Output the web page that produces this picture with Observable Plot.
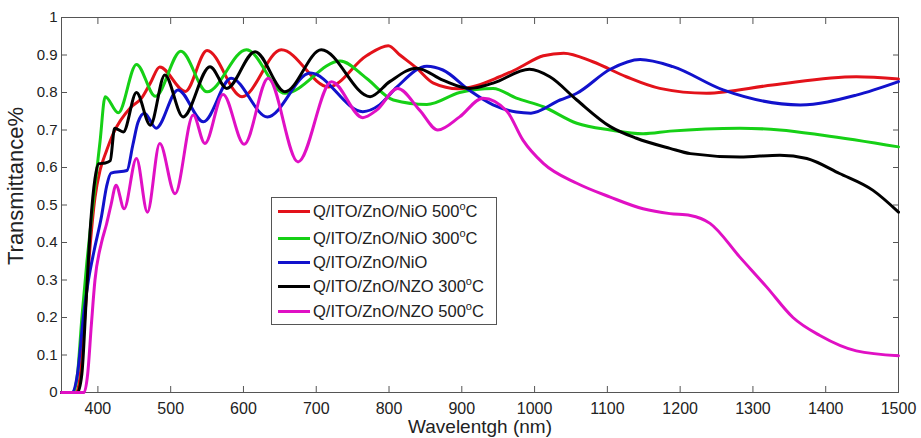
<!DOCTYPE html>
<html>
<head>
<meta charset="utf-8">
<script src="https://cdn.jsdelivr.net/npm/d3@7"></script>
<script src="https://cdn.jsdelivr.net/npm/@observablehq/plot@0.6"></script>
<style>
  body { margin: 0; background: white; }
  #wrap { position: relative; width: 921px; height: 438px; font-family: "Liberation Sans", Arial, sans-serif; }
  #legend { position: absolute; left: 271px; top: 197px; width: 226px; height: 128px; border: 1px solid #555; background: white; box-sizing: border-box; }
  .row { position: absolute; left: 0; height: 20px; display: flex; align-items: center; font-size: 16.5px; color: #222; white-space: nowrap; }
  .sw { width: 32px; height: 3px; margin-left: 6px; margin-right: 3px; }
  sup { font-size: 11px; vertical-align: 7px; line-height: 0; }
</style>
</head>
<body>
<div id="wrap"><div id="legend"></div></div>
<script>
// Series names and colours
const names = ["Q/ITO/ZnO/NiO 500", "Q/ITO/ZnO/NiO 300", "Q/ITO/ZnO/NiO", "Q/ITO/ZnO/NZO 300", "Q/ITO/ZnO/NZO 500"];
const suffixes = ["°C", "°C", "", "°C", "°C"];
const colors = ["#e3121a", "#16d016", "#1212cc", "#000000", "#e010c4"];

// Red: Q/ITO/ZnO/NiO 500°C
const redX = [350,370,376,382,388,396,403,411,421,445,460,472,485,520,550,598,652,717,769,799,815,838,861,895,952,975,1012,1040,1080,1126,1172,1236,1327,1442,1500];
const redY = [0,0,0.05,0.2,0.36,0.52,0.593,0.64,0.69,0.76,0.785,0.825,0.868,0.803,0.912,0.789,0.914,0.815,0.898,0.925,0.90,0.865,0.825,0.810,0.842,0.862,0.898,0.905,0.882,0.842,0.811,0.798,0.82,0.842,0.836];

// Green: Q/ITO/ZnO/NiO 300°C
const greenX = [350,366,372,378,385,392,403,410,428,453,479,514,550,604,657,733,769,806,852,897,943,975,1012,1058,1104,1149,1186,1282,1337,1396,1500];
const greenY = [0,0,0.05,0.2,0.35,0.48,0.67,0.789,0.746,0.875,0.79,0.91,0.802,0.914,0.798,0.884,0.838,0.78,0.768,0.80,0.811,0.785,0.762,0.718,0.70,0.69,0.697,0.705,0.70,0.686,0.655];

// Blue: Q/ITO/ZnO/NiO
const blueX = [350,364,372,380,387,395,405,412,418,440,448,455,464,480,510,545,583,633,692,764,787,811,852,874,911,943,975,995,1035,1058,1104,1145,1190,1259,1365,1442,1500];
const blueY = [0,0,0.05,0.2,0.3,0.38,0.47,0.55,0.585,0.592,0.66,0.72,0.745,0.705,0.807,0.722,0.838,0.735,0.852,0.749,0.767,0.815,0.87,0.86,0.805,0.767,0.748,0.745,0.78,0.798,0.862,0.888,0.869,0.807,0.767,0.793,0.829];

// Black: Q/ITO/ZnO/NZO 300°C
const blackX = [350,372,378,384,390,396,401,410,417,423,435,453,472,492,517,554,577,616,657,707,774,801,838,874,911,943,993,1021,1058,1104,1140,1186,1214,1282,1337,1374,1419,1465,1500];
const blackY = [0,0,0.05,0.25,0.45,0.57,0.61,0.612,0.618,0.705,0.695,0.80,0.713,0.847,0.735,0.869,0.811,0.909,0.802,0.914,0.789,0.829,0.865,0.833,0.811,0.825,0.862,0.842,0.78,0.709,0.678,0.651,0.637,0.628,0.633,0.624,0.584,0.539,0.481];

// Magenta: Q/ITO/ZnO/NZO 500°C
const magX = [350,381,386,391,396,405,412,418,425,436,453,468,485,506,531,547,572,601,634,675,721,764,783,812,842,867,897,929,962,984,1012,1058,1104,1149,1186,1214,1241,1282,1319,1355,1392,1442,1500];
const magY = [0,0,0.05,0.18,0.3,0.4,0.45,0.5,0.553,0.49,0.624,0.481,0.664,0.53,0.74,0.664,0.795,0.662,0.838,0.615,0.829,0.733,0.753,0.811,0.753,0.70,0.735,0.785,0.75,0.673,0.611,0.558,0.521,0.49,0.477,0.472,0.451,0.361,0.281,0.20,0.152,0.111,0.098];

// Ticks
const xTicks = [400,500,600,700,800,900,1000,1100,1200,1300,1400,1500];
const yTicks = [0,0.1,0.2,0.3,0.4,0.5,0.6,0.7,0.8,0.9,1];
const xLabel = "Wavelentgh (nm)";
const yLabel = "Transmittance%";

const seriesX = [redX, greenX, blueX, blackX, magX];
const seriesY = [redY, greenY, blueY, blackY, magY];
const rows = [];
names.forEach((n, k) => seriesX[k].forEach((x, i) => rows.push({x, y: seriesY[k][i], s: n})));

const chart = Plot.plot({
  width: 921, height: 438,
  marginLeft: 61, marginRight: 23, marginTop: 17, marginBottom: 46,
  style: {fontFamily: "'Liberation Sans', Arial, sans-serif", fontSize: "15px", background: "white", color: "#222"},
  x: {domain: [350, 1500]},
  y: {domain: [0, 1]},
  color: {domain: names, range: colors},
  marks: [
    Plot.frame({stroke: "#555"}),
    Plot.axisX(xTicks, {anchor: "bottom", tickSize: -6, tickPadding: 16, tickFormat: d => String(d), fontSize: 16, label: null, stroke: "#555"}),
    Plot.axisX(xTicks, {anchor: "top", tickSize: -6, tickFormat: () => "", label: null, stroke: "#555"}),
    Plot.axisY(yTicks, {anchor: "left", tickSize: -6, tickPadding: 10, tickFormat: d => String(d), fontSize: 15, label: null, stroke: "#555"}),
    Plot.axisY(yTicks, {anchor: "right", tickSize: -6, tickFormat: () => "", label: null, stroke: "#555"}),
    Plot.line(rows, {x: "x", y: "y", z: "s", stroke: "s", curve: "monotone-x", strokeWidth: 3}),
    Plot.text([xLabel], {frameAnchor: "bottom", dy: 34, lineAnchor: "middle", textAnchor: "middle", fontSize: 19}),
    Plot.text([yLabel], {frameAnchor: "left", dx: -46, dy: -19, rotate: -90, lineAnchor: "middle", textAnchor: "middle", fontSize: 22})
  ]
});
const wrap = document.getElementById("wrap");
wrap.insertBefore(chart, wrap.firstChild);

const legend = document.getElementById("legend");
const rowTops = [3, 30, 54, 78, 103];
names.forEach((n, k) => {
  const r = document.createElement("div");
  r.className = "row";
  r.style.top = rowTops[k] + "px";
  const sw = document.createElement("div");
  sw.className = "sw";
  sw.style.background = colors[k];
  const t = document.createElement("span");
  t.innerHTML = suffixes[k] ? n + "<sup>o</sup>C" : n;
  r.appendChild(sw); r.appendChild(t);
  legend.appendChild(r);
});
</script>
</body>
</html>
